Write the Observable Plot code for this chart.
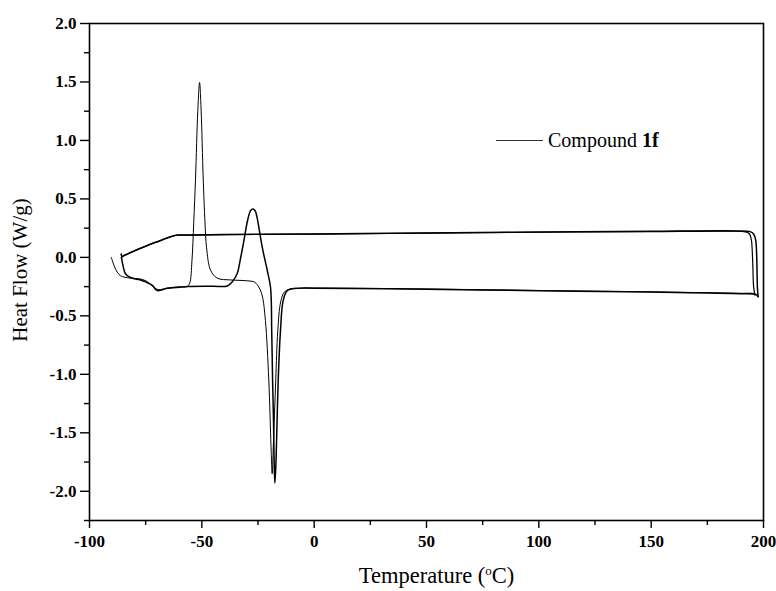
<!DOCTYPE html>
<html><head><meta charset="utf-8">
<script src="https://cdn.jsdelivr.net/npm/d3@7"></script>
<script src="https://cdn.jsdelivr.net/npm/@observablehq/plot@0.6"></script>
<style>
body{margin:0;background:#fff;}
#wrap{position:relative;width:776px;height:591px;}
#legend{position:absolute;left:496px;top:129px;font-family:"Liberation Serif","Times New Roman",serif;font-size:20px;display:flex;align-items:center;white-space:nowrap;color:#000;line-height:23px;}
#legend .sw{display:inline-block;width:47px;height:0;border-top:1.2px solid #333;margin-right:5px;}
</style></head>
<body><div id="wrap"><div id="legend"><span class="sw"></span><span id="legtext"></span></div></div>
<script>
// ---- data (Temperature °C, Heat Flow W/g) ----
const legendName = "Compound ";
const legendBold = "1f";
const xLabel = "Temperature (oC)";
const yLabel = "Heat Flow (W/g)";
const xMajor = [-100, -50, 0, 50, 100, 150, 200];
const xMinor = [-75, -25, 25, 75, 125, 175];
const yMajor = [-2.0, -1.5, -1.0, -0.5, 0.0, 0.5, 1.0, 1.5, 2.0];
const yMinor = [-2.25, -1.75, -1.25, -0.75, -0.25, 0.25, 0.75, 1.25, 1.75];

// first heating (sharp crystallisation peak near -51 °C)
const heat1 = [[-90.3,0.00],[-89.8,-0.03],[-88.4,-0.10],[-86.2,-0.157],[-81.8,-0.177],[-77.3,-0.185],[-74.5,-0.205],[-72.9,-0.23],[-70.2,-0.27],[-68.5,-0.276],[-65.5,-0.262],[-60,-0.252],[-56.5,-0.248],[-55.4,-0.22],[-54.4,-0.03],[-53.6,0.30],[-52.8,0.68],[-51.8,1.25],[-51.0,1.496],[-50.3,1.25],[-49.4,0.68],[-48.6,0.30],[-47.9,0.085],[-46.1,-0.11],[-43.2,-0.177],[-37.2,-0.193],[-30,-0.200],[-26.5,-0.212],[-24.6,-0.256],[-23.1,-0.33],[-21.7,-0.54],[-20.2,-1.05],[-19.2,-1.62],[-18.7,-1.85],[-18.2,-1.62],[-17.1,-1.05],[-16.2,-0.63],[-14.9,-0.38],[-13.2,-0.295],[-10,-0.268],[-5,-0.263],[0,-0.262],[50,-0.270],[100,-0.283],[150,-0.295],[190,-0.307],[195.6,-0.31],[196.2,-0.322]];

// first cooling
const cool1 = [[196.2,-0.322],[195.6,-0.25],[195.3,-0.10],[195.0,0.05],[194.6,0.15],[193.8,0.20],[192,0.218],[186,0.224],[150,0.221],[100,0.215],[50,0.207],[0,0.199],[-40,0.194],[-60,0.19],[-61.7,0.187],[-65,0.168],[-68.4,0.143],[-74.3,0.10],[-80,0.055],[-84,0.02],[-85.8,0.00]];

// second heating (cold crystallisation near -27 °C, melting near -17.5 °C)
const heat2 = [[-85.8,0.00],[-85.1,-0.07],[-84,-0.14],[-82,-0.17],[-79.5,-0.185],[-77,-0.195],[-75,-0.21],[-72,-0.24],[-70.5,-0.275],[-69.6,-0.285],[-67.5,-0.276],[-65.4,-0.265],[-60,-0.255],[-55.8,-0.249],[-45,-0.247],[-38.7,-0.245],[-36.5,-0.21],[-34.3,-0.14],[-32.8,-0.01],[-31.3,0.14],[-29.6,0.32],[-28.3,0.40],[-27.2,0.414],[-26.2,0.395],[-25.4,0.34],[-23.1,0.085],[-20.9,-0.11],[-19.4,-0.26],[-18.9,-0.63],[-18.5,-1.05],[-18.1,-1.40],[-17.8,-1.75],[-17.5,-1.93],[-17.1,-1.80],[-16.8,-1.62],[-16.0,-1.05],[-15.0,-0.63],[-13.8,-0.37],[-12.0,-0.285],[-7.6,-0.265],[0,-0.263],[50,-0.272],[100,-0.285],[150,-0.297],[190,-0.31],[196.8,-0.318],[197.6,-0.336]];

// second cooling
const cool2 = [[197.6,-0.336],[197.3,-0.26],[197.1,-0.10],[196.9,0.05],[196.5,0.15],[195.6,0.20],[194,0.220],[188,0.226],[150,0.223],[100,0.216],[50,0.209],[0,0.201],[-40,0.195],[-60,0.191],[-61.7,0.189],[-65,0.170],[-68.4,0.145],[-74.3,0.102],[-80,0.057],[-84,0.022],[-85.6,0.01],[-85.9,0.03]];

const font = "'Liberation Serif','Times New Roman',serif";
const lineOpts = (w) => ({x: d => d[0], y: d => d[1], curve: "catmull-rom", stroke: "black", strokeWidth: w});

const chart = Plot.plot({
  width: 776, height: 591,
  marginLeft: 89, marginRight: 13, marginTop: 23, marginBottom: 71,
  style: {fontFamily: font, background: "white", color: "black", overflow: "visible"},
  x: {domain: [-100, 200]},
  y: {domain: [-2.25, 2.0]},
  marks: [
    Plot.axisX(xMinor, {tickSize: 5, tickFormat: () => "", label: null, strokeWidth: 1.4}),
    Plot.axisX(xMajor, {tickSize: 8, tickPadding: 6, tickFormat: d => String(d), fontSize: 17, fontWeight: "bold", label: null, strokeWidth: 1.4}),
    Plot.axisY(yMinor, {tickSize: 5, tickFormat: () => "", label: null, strokeWidth: 1.4}),
    Plot.axisY(yMajor, {tickSize: 9, tickPadding: 4, tickFormat: d => d.toFixed(1), fontSize: 17, fontWeight: "bold", label: null, strokeWidth: 1.4}),
    Plot.line(heat1, lineOpts(1.0)),
    Plot.line(cool1, lineOpts(1.2)),
    Plot.line(heat2, lineOpts(1.5)),
    Plot.line(cool2, lineOpts(1.5)),
    Plot.frame({stroke: "black", strokeWidth: 1.6}),
    Plot.text([xLabel], {text: d => d, frameAnchor: "bottom", textAnchor: "middle", dy: 62, dx: 10, fontSize: 22.5}),
    Plot.text([yLabel], {text: d => d, frameAnchor: "left", textAnchor: "middle", dx: -69, dy: -2, rotate: -90, fontSize: 21})
  ]
});

// superscript "o" in the x label
const lab = [...chart.querySelectorAll("text")].find(e => e.textContent === xLabel);
if (lab) {
  lab.textContent = "";
  const ns = "http://www.w3.org/2000/svg";
  const a = document.createElementNS(ns, "tspan"); a.textContent = "Temperature (";
  const b = document.createElementNS(ns, "tspan"); b.textContent = "o"; b.setAttribute("font-size", "13"); b.setAttribute("dy", "-8");
  const c = document.createElementNS(ns, "tspan"); c.textContent = "C)"; c.setAttribute("dy", "8");
  lab.append(a, b, c);
}

document.getElementById("wrap").prepend(chart);
const lt = document.getElementById("legtext");
lt.append(document.createTextNode(legendName));
const bb = document.createElement("b"); bb.textContent = legendBold; lt.append(bb);
</script>
</body></html>
